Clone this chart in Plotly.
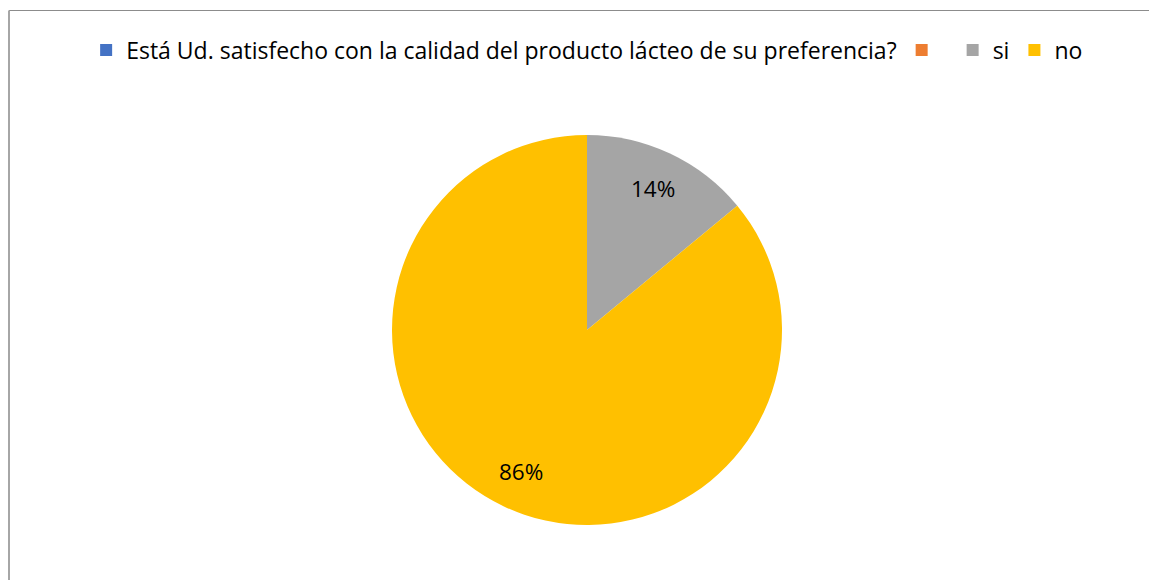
import math
import plotly.graph_objects as go

labels = ["Está Ud. satisfecho con la calidad del producto lácteo de su preferencia?", " ", "si", "no"]
values = [0, 0, 14, 86]
colors = ["#4472C4", "#ED7D31", "#A5A5A5", "#FFC000"]

W, H = 1149, 580
cx, cy, R = 587, 330, 195  # pie centre and radius in pixels

fig = go.Figure(go.Pie(
    labels=labels,
    values=values,
    marker=dict(colors=colors, line=dict(width=0)),
    sort=False,
    direction="clockwise",
    rotation=0,
    textinfo="none",
    domain=dict(x=[(cx - R) / W, (cx + R) / W], y=[(H - cy - R) / H, (H - cy + R) / H]),
    hoverinfo="label+percent",
))

# percentage labels placed like Excel: at 0.8 of the radius on each slice's mid angle
total = sum(values)
start = 0
annotations = []
for v in values:
    if v > 0:
        mid = (start + v / 2) / total * 2 * math.pi
        x = cx + 0.8 * R * math.sin(mid)
        y = cy - 0.8 * R * math.cos(mid)
        annotations.append(dict(
            x=x / W, y=(H - y) / H, xref="paper", yref="paper",
            xanchor="center", yanchor="middle",
            text=f"{round(v / total * 100)}%", showarrow=False,
            font=dict(family="Open Sans", size=22.5, color="#000000"),
        ))
    start += v

fig.update_layout(
    width=W, height=H,
    margin=dict(l=0, r=0, t=0, b=0),
    paper_bgcolor="white",
    plot_bgcolor="white",
    font=dict(family="Open Sans", size=23, color="#000000"),
    showlegend=True,
    legend=dict(orientation="h", x=0.511, xanchor="center", y=(H - 50) / H, yanchor="middle",
                font=dict(size=23), itemwidth=30),
    annotations=annotations,
    shapes=[
        dict(type="line", xref="paper", yref="paper", x0=9 / W, x1=1.01, y0=(H - 10.5) / H, y1=(H - 10.5) / H,
             line=dict(color="#8c8c8c", width=1)),
        dict(type="line", xref="paper", yref="paper", x0=9 / W, x1=9 / W, y0=-0.01, y1=(H - 10.5) / H,
             line=dict(color="#a6a6a6", width=2)),
    ],
)

fig.write_html("out.html", config={"displayModeBar": False},
               post_script="document.body.style.margin='0';")
